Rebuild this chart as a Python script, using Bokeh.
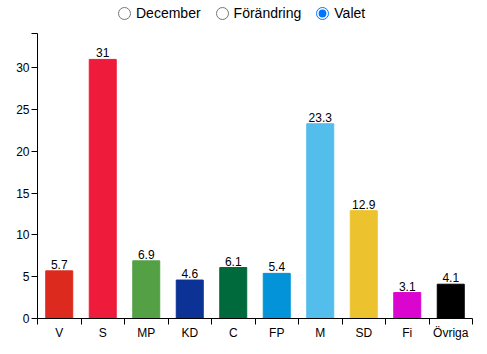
from bokeh.plotting import figure
from bokeh.models import (ColumnDataSource, FixedTicker, Range1d, RadioGroup,
                          InlineStyleSheet, LabelSet)
from bokeh.core.properties import value
from bokeh.layouts import column
from bokeh.embed import file_html
from bokeh.resources import INLINE

parties = ["V", "S", "MP", "KD", "C", "FP", "M", "SD", "Fi", "Övriga"]
values = [5.7, 31, 6.9, 4.6, 6.1, 5.4, 23.3, 12.9, 3.1, 4.1]
colors = ["#DC2A1F", "#EE1B3B", "#53A045", "#0B3294", "#016A3C",
          "#0293D8", "#53BDEB", "#ECC32F", "#DB05D0", "#000000"]
modes = ["December", "Förändring", "Valet"]
y_ticks = [0, 5, 10, 15, 20, 25, 30]

FONT = "Liberation Sans"
ymax = max(values) * 1.1

src = ColumnDataSource(dict(
    x=[i + 0.5 for i in range(len(parties))],
    top=values,
    color=colors,
    label=[("%g" % v) for v in values],
))

p = figure(width=487, height=325, output_backend="svg", toolbar_location=None,
           x_range=Range1d(0, len(parties)), y_range=Range1d(0, ymax),
           min_border_left=37, min_border_right=15, min_border_top=4,
           min_border_bottom=36)
p.outline_line_color = None
p.background_fill_color = None
p.border_fill_color = None
p.grid.visible = False

p.vbar(x="x", top="top", width=0.62, color="color", source=src)
labels = LabelSet(x="x", y="top", text="label", source=src,
                  text_align="center", text_baseline="bottom", y_offset=2,
                  text_font=value(FONT), text_font_size=value("12px"),
                  text_color=value("#000"))
p.add_layout(labels)

xa = p.xaxis[0]
xa.ticker = FixedTicker(ticks=[i + 0.5 for i in range(len(parties))],
                        minor_ticks=list(range(len(parties) + 1)))
xa.major_label_overrides = {i + 0.5: parties[i] for i in range(len(parties))}
xa.major_tick_line_color = None
xa.minor_tick_in = 0
xa.minor_tick_out = 6
xa.minor_tick_line_color = "#000"
xa.axis_line_color = "#000"
xa.major_label_text_font = FONT
xa.major_label_text_font_size = "12px"
xa.major_label_text_color = "#000"
xa.major_label_standoff = 1

ya = p.yaxis[0]
ya.ticker = FixedTicker(ticks=y_ticks, minor_ticks=[ymax])
ya.major_tick_in = 0
ya.major_tick_out = 6
ya.minor_tick_in = 0
ya.minor_tick_out = 6
ya.minor_tick_line_color = "#000"
ya.major_tick_line_color = "#000"
ya.axis_line_color = "#000"
ya.major_label_text_font = FONT
ya.major_label_text_font_size = "12px"
ya.major_label_text_color = "#000"
ya.major_label_standoff = 2

css = InlineStyleSheet(css="""
:host { font-family: 'Liberation Sans', Helvetica, Arial, sans-serif; font-size: 14px; color: #000; }
.bk-input-group { font-size: 14px; }
label { font-size: 14px; margin-right: 10px !important; }
input[type="radio"] { margin: 0 2px 0 0 !important; width: 13px; height: 13px; }
""")
radio = RadioGroup(labels=modes, active=2, inline=True, height=24,
                   margin=(5, 0, 0, 118), stylesheets=[css])

layout = column(radio, p, spacing=0)
open("out.html", "w").write(file_html(layout, INLINE))
